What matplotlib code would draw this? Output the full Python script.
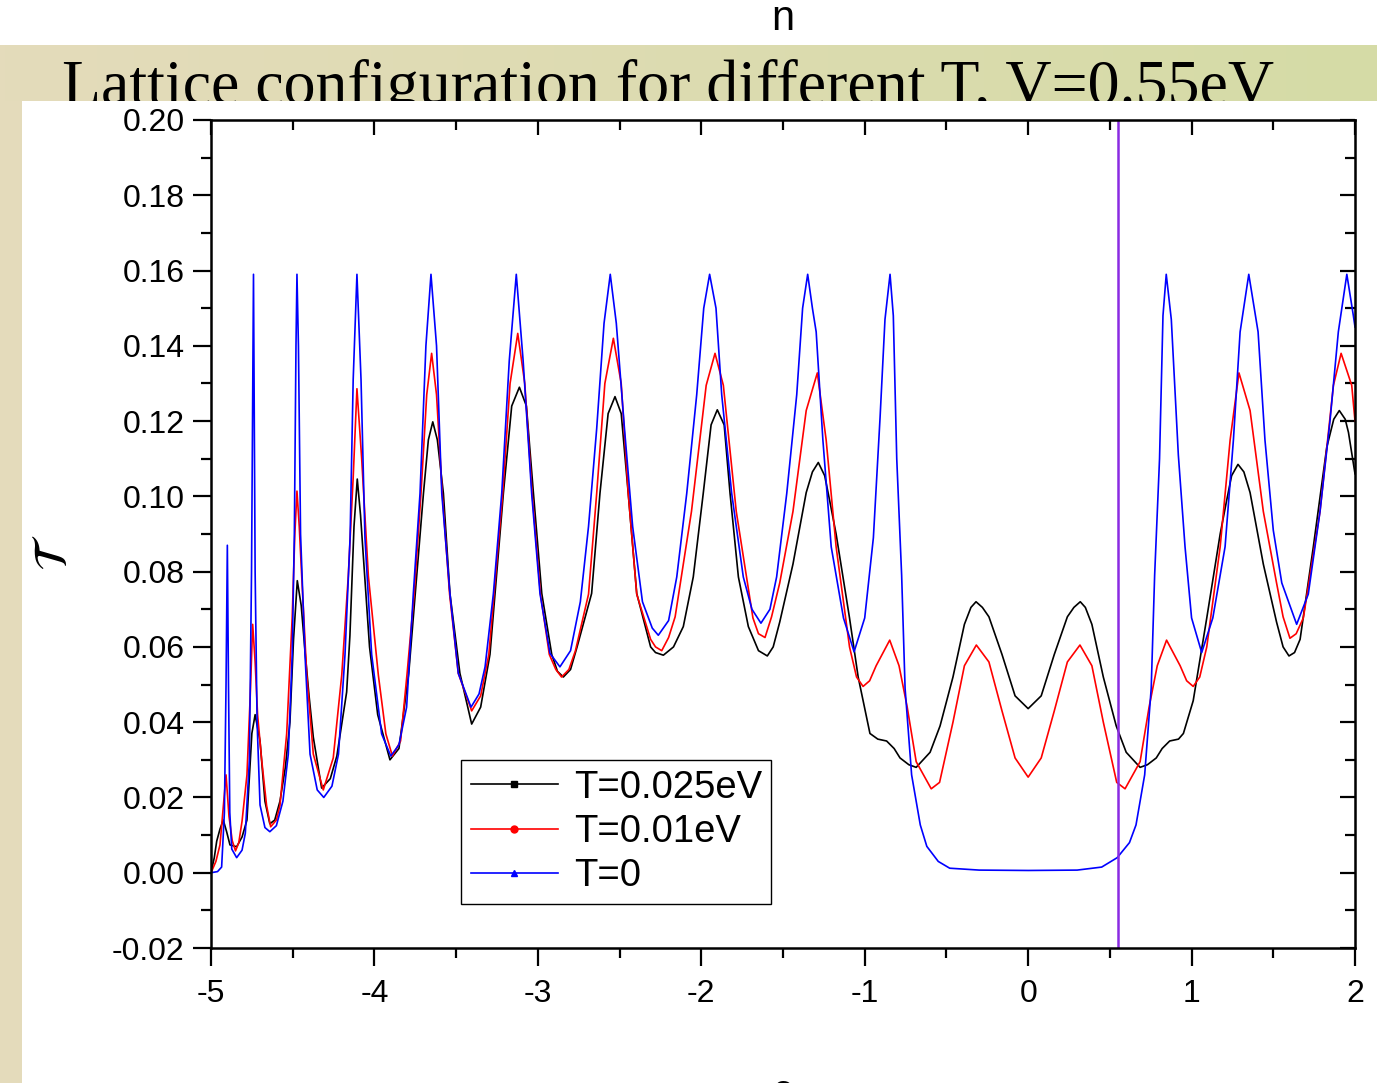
import matplotlib
matplotlib.use('Agg')
import matplotlib.pyplot as plt
from matplotlib.patches import Rectangle
from matplotlib.lines import Line2D
from matplotlib.ticker import MultipleLocator, NullFormatter
from matplotlib.colors import LinearSegmentedColormap
import numpy as np

plt.rcParams['font.family'] = ['Liberation Sans', 'DejaVu Sans']
plt.rcParams['mathtext.fontset'] = 'stix'
plt.rcParams['axes.unicode_minus'] = False

# ---- data ----
eps_black = [-5.00, -4.98, -4.965, -4.945, -4.925, -4.905, -4.884, -4.843, -4.81, -4.78,
             -4.75, -4.73, -4.70, -4.67, -4.64, -4.61, -4.578, -4.545, -4.517, -4.495,
             -4.472, -4.448, -4.425, -4.40, -4.374, -4.323, -4.27, -4.23, -4.17, -4.15,
             -4.125, -4.105, -4.085, -4.06, -4.03, -3.98, -3.905, -3.85, -3.79, -3.75,
             -3.70, -3.67, -3.643, -3.615, -3.578, -3.538, -3.477, -3.405, -3.35, -3.293,
             -3.262, -3.211, -3.16, -3.113, -3.07, -3.027, -2.976, -2.915, -2.88, -2.844,
             -2.80, -2.76, -2.671, -2.62, -2.57, -2.528, -2.49, -2.447, -2.395, -2.31,
             -2.28, -2.232, -2.17, -2.11, -2.049, -1.988, -1.94, -1.902, -1.86, -1.824,
             -1.773, -1.712, -1.65, -1.596, -1.56, -1.52, -1.439, -1.358, -1.32, -1.284,
             -1.245, -1.215, -1.175, -1.093, -1.04, -0.968, -0.92, -0.866, -0.82, -0.784,
             -0.73, -0.685, -0.60, -0.539, -0.46, -0.39, -0.35, -0.319, -0.28, -0.24,
             -0.16, -0.08, 0.00, 0.08, 0.16, 0.24, 0.28, 0.319, 0.35, 0.39,
             0.46, 0.539, 0.60, 0.685, 0.73, 0.784, 0.82, 0.866, 0.92, 0.95,
             1.01, 1.093, 1.175, 1.215, 1.245, 1.284, 1.32, 1.358, 1.439, 1.52,
             1.56, 1.596, 1.63, 1.664, 1.745, 1.827, 1.87, 1.904, 1.94, 1.96,
             2.00]
T_black = [0.000, 0.004, 0.0084, 0.0116, 0.0140, 0.0110, 0.0074, 0.0069, 0.0095, 0.0140,
           0.0370, 0.0420, 0.0350, 0.0190, 0.0130, 0.0140, 0.0190, 0.0280, 0.0400, 0.0620,
           0.0776, 0.0710, 0.0590, 0.0470, 0.0360, 0.0225, 0.0250, 0.0310, 0.0480, 0.0630,
           0.0920, 0.1046, 0.0950, 0.0790, 0.0600, 0.0420, 0.0300, 0.0330, 0.0530, 0.0742,
           0.1008, 0.1150, 0.1198, 0.1150, 0.1008, 0.0742, 0.0530, 0.0395, 0.0440, 0.0580,
           0.0742, 0.1008, 0.1240, 0.1290, 0.1240, 0.1008, 0.0742, 0.0580, 0.0535, 0.0520,
           0.0540, 0.0600, 0.0742, 0.1008, 0.1220, 0.1265, 0.1220, 0.1008, 0.0742, 0.0600,
           0.0585, 0.0578, 0.0600, 0.0654, 0.0786, 0.1008, 0.1190, 0.1230, 0.1190, 0.1008,
           0.0786, 0.0654, 0.0590, 0.0576, 0.0600, 0.0666, 0.0820, 0.1010, 0.1065, 0.1090,
           0.1055, 0.0990, 0.0900, 0.0677, 0.0520, 0.0370, 0.0355, 0.0350, 0.0330, 0.0305,
           0.0287, 0.0280, 0.0320, 0.0390, 0.0520, 0.0660, 0.0705, 0.0720, 0.0705, 0.0680,
           0.0580, 0.0470, 0.0436, 0.0470, 0.0580, 0.0680, 0.0705, 0.0720, 0.0705, 0.0660,
           0.0520, 0.0390, 0.0320, 0.0280, 0.0287, 0.0305, 0.0330, 0.0350, 0.0355, 0.0370,
           0.0457, 0.0677, 0.0900, 0.0990, 0.1055, 0.1085, 0.1065, 0.1010, 0.0820, 0.0666,
           0.0600, 0.0576, 0.0585, 0.0620, 0.0866, 0.1130, 0.1205, 0.1228, 0.1205, 0.1170,
           0.1060]

eps_red = [-5.00, -4.97, -4.945, -4.925, -4.908, -4.89, -4.87, -4.85, -4.83, -4.81,
           -4.78, -4.76, -4.745, -4.73, -4.715, -4.69, -4.66, -4.635, -4.60, -4.578,
           -4.537, -4.503, -4.487, -4.474, -4.46, -4.445, -4.414, -4.374, -4.313, -4.252,
           -4.20, -4.16, -4.13, -4.107, -4.078, -4.037, -3.976, -3.93, -3.89, -3.84,
           -3.80, -3.757, -3.715, -3.68, -3.65, -3.62, -3.585, -3.54, -3.487, -3.405,
           -3.35, -3.30, -3.268, -3.215, -3.17, -3.123, -3.08, -3.035, -2.984, -2.93,
           -2.89, -2.855, -2.81, -2.77, -2.69, -2.64, -2.59, -2.538, -2.49, -2.447,
           -2.395, -2.31, -2.28, -2.242, -2.20, -2.16, -2.06, -1.97, -1.916, -1.865,
           -1.786, -1.684, -1.65, -1.61, -1.57, -1.52, -1.439, -1.358, -1.29, -1.236,
           -1.175, -1.093, -1.05, -1.01, -0.97, -0.93, -0.847, -0.79, -0.74, -0.685,
           -0.593, -0.542, -0.46, -0.39, -0.317, -0.24, -0.16, -0.08, 0.00, 0.08,
           0.16, 0.24, 0.317, 0.39, 0.46, 0.542, 0.593, 0.685, 0.74, 0.79,
           0.847, 0.93, 0.97, 1.01, 1.05, 1.093, 1.175, 1.236, 1.29, 1.358,
           1.439, 1.52, 1.56, 1.602, 1.64, 1.684, 1.786, 1.868, 1.915, 1.98,
           2.00]
T_red = [0.000, 0.003, 0.0074, 0.0175, 0.0260, 0.0150, 0.0085, 0.0058, 0.0080, 0.0137,
         0.0260, 0.0470, 0.0660, 0.0560, 0.0420, 0.0300, 0.0179, 0.0122, 0.0140, 0.0179,
         0.0369, 0.0680, 0.0900, 0.1014, 0.0920, 0.0788, 0.0525, 0.0315, 0.0220, 0.0305,
         0.0525, 0.0788, 0.1050, 0.1286, 0.1100, 0.0788, 0.0525, 0.0369, 0.0310, 0.0350,
         0.0530, 0.0740, 0.1008, 0.1270, 0.1380, 0.1270, 0.1008, 0.0740, 0.0530, 0.0430,
         0.0470, 0.0580, 0.0740, 0.1008, 0.1300, 0.1433, 0.1300, 0.1008, 0.0740, 0.0580,
         0.0540, 0.0520, 0.0540, 0.0590, 0.0740, 0.1008, 0.1300, 0.1420, 0.1300, 0.1008,
         0.0740, 0.0620, 0.0600, 0.0590, 0.0625, 0.0680, 0.0960, 0.1295, 0.1380, 0.1295,
         0.0960, 0.0677, 0.0635, 0.0625, 0.0680, 0.0770, 0.0960, 0.1228, 0.1328, 0.1150,
         0.0866, 0.0600, 0.0520, 0.0495, 0.0510, 0.0550, 0.0618, 0.0550, 0.0440, 0.0295,
         0.0223, 0.0240, 0.0400, 0.0550, 0.0605, 0.0560, 0.0430, 0.0305, 0.0254, 0.0305,
         0.0430, 0.0560, 0.0605, 0.0550, 0.0400, 0.0240, 0.0223, 0.0295, 0.0440, 0.0550,
         0.0618, 0.0550, 0.0510, 0.0495, 0.0520, 0.0600, 0.0866, 0.1150, 0.1328, 0.1228,
         0.0960, 0.0770, 0.0680, 0.0623, 0.0635, 0.0677, 0.0960, 0.1295, 0.1380, 0.1295,
         0.1200]

eps_blue = [-5.00, -4.96, -4.935, -4.918, -4.908, -4.900, -4.893, -4.885, -4.873, -4.843,
            -4.81, -4.79, -4.765, -4.752, -4.740, -4.730, -4.718, -4.70, -4.67, -4.64,
            -4.60, -4.56, -4.527, -4.503, -4.490, -4.480, -4.474, -4.465, -4.452, -4.425,
            -4.394, -4.35, -4.31, -4.26, -4.22, -4.18, -4.149, -4.13, -4.107, -4.082,
            -4.058, -4.017, -3.956, -3.90, -3.85, -3.803, -3.762, -3.721, -3.685, -3.654,
            -3.62, -3.588, -3.538, -3.487, -3.409, -3.36, -3.323, -3.272, -3.221, -3.175,
            -3.132, -3.090, -3.038, -2.987, -2.926, -2.865, -2.80, -2.74, -2.69, -2.64,
            -2.595, -2.557, -2.52, -2.47, -2.42, -2.36, -2.30, -2.263, -2.20, -2.15,
            -2.089, -2.028, -1.985, -1.949, -1.91, -1.875, -1.814, -1.743, -1.69, -1.635,
            -1.58, -1.539, -1.477, -1.416, -1.380, -1.349, -1.32, -1.297, -1.256, -1.205,
            -1.13, -1.065, -1.00, -0.947, -0.906, -0.876, -0.845, -0.825, -0.804, -0.774,
            -0.753, -0.713, -0.66, -0.62, -0.55, -0.48, -0.30, 0.00, 0.30, 0.45,
            0.545, 0.62, 0.66, 0.713, 0.753, 0.774, 0.804, 0.825, 0.845, 0.876,
            0.919, 0.96, 1.00, 1.062, 1.13, 1.205, 1.256, 1.297, 1.35, 1.407,
            1.449, 1.50, 1.552, 1.643, 1.714, 1.786, 1.847, 1.898, 1.95, 1.99,
            2.00]
T_blue = [0.0000, 0.0003, 0.0015, 0.0160, 0.0500, 0.0870, 0.0500, 0.0160, 0.0063, 0.0040,
          0.0060, 0.0105, 0.0300, 0.0800, 0.1590, 0.0800, 0.0400, 0.0180, 0.0120, 0.0109,
          0.0125, 0.0190, 0.0315, 0.0580, 0.0900, 0.1400, 0.1590, 0.1400, 0.0900, 0.0580,
          0.0315, 0.0220, 0.0200, 0.0230, 0.0315, 0.0580, 0.0890, 0.1310, 0.1590, 0.1310,
          0.0890, 0.0580, 0.0369, 0.0310, 0.0340, 0.0440, 0.0742, 0.1008, 0.1400, 0.1590,
          0.1400, 0.1008, 0.0742, 0.0530, 0.0440, 0.0475, 0.0547, 0.0742, 0.1008, 0.1360,
          0.1590, 0.1360, 0.1008, 0.0742, 0.0583, 0.0547, 0.0590, 0.0720, 0.0920, 0.1180,
          0.1460, 0.1590, 0.1460, 0.1180, 0.0920, 0.0720, 0.0650, 0.0631, 0.0670, 0.0786,
          0.1008, 0.1270, 0.1500, 0.1590, 0.1500, 0.1270, 0.1008, 0.0786, 0.0700, 0.0663,
          0.0700, 0.0786, 0.1008, 0.1270, 0.1500, 0.1590, 0.1500, 0.1437, 0.1150, 0.0866,
          0.0677, 0.0587, 0.0677, 0.0890, 0.1210, 0.1470, 0.1590, 0.1480, 0.1100, 0.0790,
          0.0490, 0.0260, 0.0127, 0.0070, 0.0030, 0.0012, 0.0007, 0.0006, 0.0007, 0.0015,
          0.0040, 0.0080, 0.0127, 0.0260, 0.0490, 0.0790, 0.1100, 0.1480, 0.1590, 0.1470,
          0.1110, 0.0866, 0.0677, 0.0585, 0.0677, 0.0866, 0.1150, 0.1437, 0.1590, 0.1437,
          0.1150, 0.0910, 0.0770, 0.0660, 0.0740, 0.0960, 0.1200, 0.1437, 0.1590, 0.1480,
          0.1450]

series = [
    ('T=0.025eV', eps_black, T_black, 'black', 's'),
    ('T=0.01eV', eps_red, T_red, '#ff0000', 'o'),
    ('T=0', eps_blue, T_blue, '#0000ff', '^'),
]
V = 0.55
title = 'Lattice configuration for different T, V=0.55eV'

W, H = 1377, 1083
fig = plt.figure(figsize=(W / 100, H / 100), dpi=100)

### slide background ###
band = fig.add_axes([0, 1 - 101 / H, 1, 56 / H], zorder=-3)
band_cmap = LinearSegmentedColormap.from_list('band', ['#e4dbbb', '#d5dba6'])
band.imshow(np.linspace(0, 1, 256).reshape(1, -1), aspect='auto', cmap=band_cmap)
band.axis('off')
fig.add_artist(Rectangle((0, 0), 22 / W, 1 - 45 / H, transform=fig.transFigure,
                         facecolor='#e4dbbb', edgecolor='none', zorder=-3))
fig.text(62 / W, 1 - 104 / H, title, family='Liberation Serif', fontsize=46,
         va='baseline', ha='left', zorder=-1)
# white sheet covers the lower part of the title
fig.add_artist(Rectangle((22 / W, 0), 1, 1 - 101 / H, transform=fig.transFigure,
                         facecolor='white', edgecolor='none', zorder=-0.5))

fig.text(783 / W, 1 - 19 / H, 'n', fontsize=30, ha='center', va='center')
fig.text(783 / W, 1 - 1073 / H, 'ε', fontsize=30, ha='center', va='top')
fig.text(55 / W, 1 - 553 / H, r'$\mathcal{T}$', fontsize=34, rotation=90,
         ha='center', va='center')

### main plot ###
ax = fig.add_axes([211 / W, 1 - 948 / H, 1144 / W, 828 / H])
for label, xs, ys, col, mk in series:
    ax.plot(xs, ys, color=col, lw=1.2)
ax.axvline(V, color='#8a2be2', lw=1.8)

ax.set_xlim(-5, 2)
ax.set_ylim(-0.02, 0.20)
ax.xaxis.set_major_locator(MultipleLocator(1))
ax.xaxis.set_minor_locator(MultipleLocator(0.5))
ax.yaxis.set_major_locator(MultipleLocator(0.02))
ax.yaxis.set_minor_locator(MultipleLocator(0.01))
ax.yaxis.set_major_formatter(plt.FormatStrFormatter('%.2f'))
ax.tick_params(which='major', direction='out', length=13, width=1.6, labelsize=23, pad=6)
ax.tick_params(which='minor', direction='out', length=7, width=1.6)
ax.tick_params(axis='x', which='major', pad=9)
for sp in ax.spines.values():
    sp.set_linewidth(1.8)

top = ax.secondary_xaxis('top')
top.xaxis.set_major_locator(MultipleLocator(1))
top.xaxis.set_minor_locator(MultipleLocator(0.5))
top.xaxis.set_major_formatter(NullFormatter())
top.tick_params(which='major', direction='in', length=11, width=1.6)
top.tick_params(which='minor', direction='in', length=7, width=1.6)
right = ax.secondary_yaxis('right')
right.yaxis.set_major_locator(MultipleLocator(0.02))
right.yaxis.set_minor_locator(MultipleLocator(0.01))
right.yaxis.set_major_formatter(NullFormatter())
right.tick_params(which='major', direction='in', length=11, width=1.6)
right.tick_params(which='minor', direction='in', length=7, width=1.6)

handles = [Line2D([], [], color=col, lw=1.2, marker=mk, markersize=5, label=label)
           for label, xs, ys, col, mk in series]
leg = ax.legend(handles=handles, loc='upper left', bbox_to_anchor=(0.2185, 0.227),
                borderaxespad=0, fontsize=27.5, frameon=True, fancybox=False,
                edgecolor='black', framealpha=1, handlelength=2.3,
                handletextpad=0.4, labelspacing=0.22, borderpad=0.25)
leg.get_frame().set_linewidth(1.0)

fig.savefig('out.png', dpi=100)
